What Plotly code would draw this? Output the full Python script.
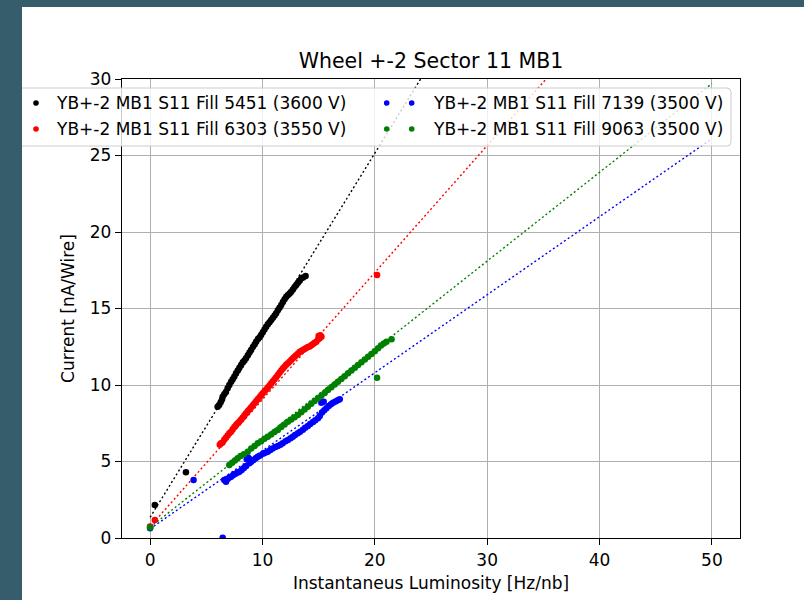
import plotly.graph_objects as go

# ---------------- data ----------------
fills = ["5451", "6303", "7139", "9063"]
voltages = ["3600 V", "3550 V", "3500 V", "3500 V"]
colors = ["#000000", "#ff0000", "#0000ff", "#008000"]

black_x = [0.0, 0.42, 3.19,
           6.01, 6.15, 6.28, 6.40, 6.46, 6.60, 6.75, 6.90, 7.05, 7.21, 7.35, 7.50, 7.65, 7.80,
           7.95, 8.10, 8.25, 8.40, 8.54, 8.70, 8.85, 8.99, 9.15, 9.30, 9.44, 9.60, 9.75, 9.88,
           10.03, 10.18, 10.33, 10.48, 10.63, 10.78, 10.93, 11.08, 11.22, 11.37, 11.52, 11.67,
           11.82, 11.97, 12.12, 12.27, 12.42, 12.56, 12.71, 12.86, 13.01, 13.16, 13.31, 13.46,
           13.62, 13.84]
black_y = [0.72, 2.16, 4.29,
           8.58, 8.70, 8.88, 9.05, 9.24, 9.40, 9.55, 9.78, 10.00, 10.22, 10.38, 10.55, 10.76, 10.95,
           11.12, 11.31, 11.48, 11.60, 11.75, 11.95, 12.12, 12.29, 12.48, 12.65, 12.83, 13.00, 13.12, 13.27,
           13.45, 13.62, 13.81, 13.97, 14.10, 14.25, 14.40, 14.55, 14.69, 14.88, 15.05, 15.23,
           15.42, 15.60, 15.77, 15.88, 15.98, 16.10, 16.25, 16.40, 16.54, 16.68, 16.82, 16.97,
           17.02, 17.12]

red_x = [0.0, 0.42, 20.2,
         6.20, 6.31, 6.45, 6.60, 6.75, 6.90, 7.05, 7.20, 7.35, 7.50, 7.65, 7.79, 7.95, 8.10, 8.25,
         8.40, 8.54, 8.70, 8.85, 9.00, 9.15, 9.29, 9.45, 9.60, 9.75, 9.90, 10.03, 10.20, 10.35,
         10.50, 10.65, 10.78, 10.93, 11.08, 11.22, 11.37, 11.52, 11.67, 11.82, 11.96, 12.11,
         12.26, 12.41, 12.56, 12.71, 12.86, 13.00, 13.15, 13.30, 13.45, 13.60, 13.75, 13.90,
         14.05, 14.20, 14.35, 14.50, 14.65, 14.79, 14.95, 15.00, 15.09, 15.15, 15.25]
red_y = [0.75, 1.18, 17.19,
         6.10, 6.19, 6.25, 6.42, 6.55, 6.70, 6.84, 6.95, 7.10, 7.25, 7.38, 7.50, 7.62, 7.75, 7.88,
         8.02, 8.15, 8.30, 8.42, 8.55, 8.68, 8.80, 8.95, 9.08, 9.22, 9.35, 9.46, 9.60, 9.72,
         9.85, 9.98, 10.11, 10.24, 10.37, 10.50, 10.65, 10.80, 10.95, 11.08, 11.20, 11.32,
         11.42, 11.52, 11.63, 11.75, 11.85, 11.95, 12.05, 12.15, 12.22, 12.29, 12.35, 12.42,
         12.48, 12.52, 12.60, 12.68, 12.76, 12.83, 12.98, 13.20, 13.05, 13.25, 13.15]

blue_x = [0.0, 3.87, 6.46,
          6.60, 6.76, 6.90, 7.05, 7.21, 7.40, 7.60, 7.80, 7.95, 8.15, 8.35, 8.55, 8.60, 8.69,
          8.80, 8.84, 9.00, 9.20, 9.40, 9.58, 9.80, 10.05, 10.25, 10.47, 10.70, 10.90, 11.15,
          11.37, 11.60, 11.80, 12.05, 12.26, 12.50, 12.70, 12.90, 13.15, 13.35, 13.60, 13.80,
          14.04, 14.25, 14.50, 14.70, 14.94, 15.10, 15.24, 15.30, 15.45, 15.50, 15.69, 15.90,
          16.10, 16.28, 16.50, 16.70, 16.88]
blue_y = [0.63, 3.79, 0.02,
          3.79, 3.68, 3.85, 3.95, 4.01, 4.12, 4.20, 4.28, 4.33, 4.45, 4.58, 4.70, 5.15, 5.27,
          5.20, 4.88, 4.98, 5.10, 5.22, 5.31, 5.40, 5.50, 5.58, 5.64, 5.75, 5.85, 5.95,
          6.01, 6.10, 6.20, 6.32, 6.41, 6.52, 6.62, 6.73, 6.84, 6.95, 7.08, 7.20,
          7.32, 7.45, 7.58, 7.70, 7.82, 7.98, 8.84, 8.20, 8.90, 8.35, 8.48, 8.62,
          8.75, 8.84, 8.92, 9.00, 9.07]

green_x = [0.0, 20.2,
           7.05, 7.30, 7.55, 7.79, 8.05, 8.35, 8.69, 9.00, 9.30, 9.58, 9.88, 10.18, 10.47, 10.77,
           11.07, 11.37, 11.67, 11.97, 12.26, 12.56, 12.86, 13.15, 13.45, 13.75, 14.04, 14.34,
           14.64, 14.94, 15.24, 15.54, 15.83, 16.13, 16.43, 16.72, 17.02, 17.32, 17.62, 17.92,
           18.22, 18.51, 18.81, 19.11, 19.40, 19.70, 20.00, 20.29, 20.55, 20.80, 21.04, 21.49]
green_y = [0.68, 10.48,
           4.77, 4.92, 5.06, 5.21, 5.36, 5.48, 5.64, 5.85, 6.02, 6.19, 6.33, 6.48, 6.62, 6.76,
           6.92, 7.06, 7.25, 7.42, 7.60, 7.75, 7.90, 8.04, 8.22, 8.40, 8.58, 8.77,
           8.95, 9.13, 9.30, 9.48, 9.67, 9.85, 10.03, 10.22, 10.40, 10.58, 10.76, 10.95,
           11.13, 11.31, 11.49, 11.67, 11.85, 12.03, 12.21, 12.40, 12.58, 12.72, 12.83, 12.99]

# linear fits (intercept, slope) drawn over the luminosity range 0..50
fit_intercept = [1.35, 0.75, 0.60, 0.70]
fit_slope = [1.19, 0.83, 0.51, 0.58]
fit_x = [0, 50]

series_x = [black_x, red_x, blue_x, green_x]
series_y = [black_y, red_y, blue_y, green_y]
order = [0, 1, 2, 3]  # black, red, blue, green (fills 5451, 6303, 7139, 9063)
series_fill = ["5451", "6303", "7139", "9063"]
series_volt = ["3600 V", "3550 V", "3500 V", "3500 V"]

FONT = "DejaVu Sans"

fig = go.Figure()
for i in order:
    fig.add_trace(go.Scatter(
        x=series_x[i], y=series_y[i], mode="markers",
        marker=dict(color=colors[i], size=6.5, line=dict(width=0)),
        name=f"YB+-2 MB1 S11 Fill {series_fill[i]} ({series_volt[i]})",
        showlegend=False, hoverinfo="skip"))
    fy = [fit_intercept[i] + fit_slope[i] * v for v in fit_x]
    fig.add_trace(go.Scatter(
        x=fit_x, y=fy, mode="lines",
        line=dict(color=colors[i], width=1.4, dash="2px,2.5px"),
        showlegend=False, hoverinfo="skip"))

# -------- layout geometry (pixels) --------
W, H = 804, 600
L, R, T, B = 122, 740, 79, 538
PW, PH = R - L, B - T


def px(xp):
    return (xp - L) / PW


def py(yp):
    return (B - yp) / PH


shapes = []
annotations = []

# legend box (rounded, semi transparent)
lx0, lx1, ly0, ly1, rr = 5, 731, 88, 146, 4
path = (f"M {px(lx0 + rr)} {py(ly0)} L {px(lx1 - rr)} {py(ly0)} "
        f"Q {px(lx1)} {py(ly0)} {px(lx1)} {py(ly0 + rr)} "
        f"L {px(lx1)} {py(ly1 - rr)} Q {px(lx1)} {py(ly1)} {px(lx1 - rr)} {py(ly1)} "
        f"L {px(lx0 + rr)} {py(ly1)} Q {px(lx0)} {py(ly1)} {px(lx0)} {py(ly1 - rr)} "
        f"L {px(lx0)} {py(ly0 + rr)} Q {px(lx0)} {py(ly0)} {px(lx0 + rr)} {py(ly0)} Z")
shapes.append(dict(type="path", xref="paper", yref="paper", path=path,
                   fillcolor="rgba(255,255,255,0.8)", line=dict(color="#cccccc", width=1),
                   layer="above"))

# legend entries: column-major, 2 columns
row_y = [103, 129]
col_dots = [[36], [386.7, 411.7]]
col_text_x = [54.5, 431.5]
for k, i in enumerate(order):
    col, row = k // 2, k % 2
    for dx in col_dots[col]:
        shapes.append(dict(type="circle", xref="paper", yref="paper",
                           xsizemode="pixel", ysizemode="pixel",
                           xanchor=px(dx), yanchor=py(row_y[row]),
                           x0=-2.8, x1=2.8, y0=-2.8, y1=2.8,
                           fillcolor=colors[i], line=dict(width=0), layer="above"))
    annotations.append(dict(
        text=f"YB+-2 MB1 S11 Fill {series_fill[i]} ({series_volt[i]})",
        xref="paper", yref="paper", x=px(col_text_x[col]), y=py(row_y[row]),
        xanchor="left", yanchor="middle", showarrow=False,
        font=dict(family=FONT, size=17, color="black"), borderpad=0))

# dark page border (left and top)
border = "#365d6b"
shapes.append(dict(type="rect", xref="paper", yref="paper",
                   x0=px(0), x1=px(22), y0=py(600), y1=py(0),
                   fillcolor=border, line=dict(width=0), layer="above"))
shapes.append(dict(type="rect", xref="paper", yref="paper",
                   x0=px(0), x1=px(804), y0=py(7), y1=py(0),
                   fillcolor=border, line=dict(width=0), layer="above"))

axis_common = dict(
    showgrid=True, gridcolor="#b0b0b0", gridwidth=1.3,
    showline=True, linecolor="black", linewidth=1.3, mirror=True,
    ticks="outside", ticklen=6, tickwidth=1.3, tickcolor="black",
    zeroline=False,
    tickfont=dict(family=FONT, size=17, color="black"),
)

fig.update_layout(
    width=W, height=H, autosize=False,
    margin=dict(l=L, r=W - R, t=T, b=H - B, pad=0),
    paper_bgcolor="white", plot_bgcolor="white",
    showlegend=False,
    title=dict(text="Wheel +-2 Sector 11 MB1", x=px(431), xref="paper", xanchor="center",
               y=1 - 61 / H, yref="container", yanchor="middle",
               font=dict(family=FONT, size=20.5, color="black")),
    xaxis=dict(range=[-2.5, 52.5], tickmode="array", tickvals=[0, 10, 20, 30, 40, 50],
               title=dict(text="Instantaneus Luminosity [Hz/nb]", standoff=8,
                          font=dict(family=FONT, size=17, color="black")),
               **axis_common),
    yaxis=dict(range=[0, 30], tickmode="array", tickvals=[0, 5, 10, 15, 20, 25, 30],
               title=dict(text="Current [nA/Wire]", standoff=10,
                          font=dict(family=FONT, size=17, color="black")),
               **axis_common),
    shapes=shapes,
    annotations=annotations,
)

fig.write_html("out.html")
